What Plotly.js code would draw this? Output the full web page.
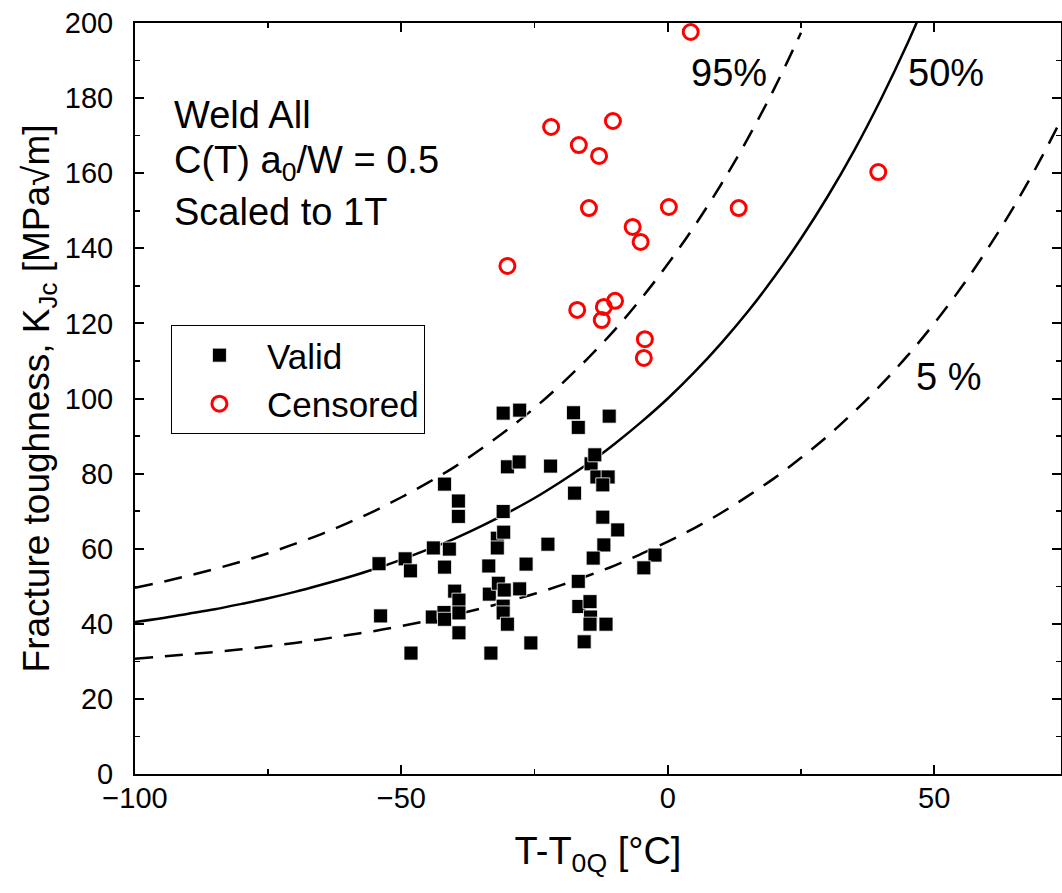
<!DOCTYPE html>
<html>
<head>
<meta charset="utf-8">
<script src="https://cdn.plot.ly/plotly-3.0.1.min.js"></script>
<style>html,body{margin:0;padding:0;background:#fff;}#chart{width:1062px;height:893px;}</style>
</head>
<body>
<div id="chart"></div>
<script>
// Valid results (T - T0Q [°C], KJc [MPa√m])
const validT = [-54.2,-53.9,-49.3,-48.3,-48.2,-44.0,-44.2,-41.9,-41.9,-41.0,-42.0,-41.9,-40.0,-39.2,-39.2,-39.2,-39.3,-39.3,
  -33.6,-33.5,-33.2,-32.0,-32.0,-31.8,-30.9,-30.1,-30.9,-30.8,-30.7,-30.9,-30.9,-30.1,-27.8,-27.9,-27.8,-26.6,-25.7,
  -22.0,-22.5,-17.7,-16.8,-17.5,-16.8,-16.7,-15.7,-14.6,-14.5,-14.6,-14.4,-13.7,-13.3,-11.2,-12.2,-12.2,-9.4,-12.0,
  -14.0,-11.6,-11.0,-2.4,-4.5];
const validK = [56.0,42.1,57.3,54.1,32.2,60.2,41.8,77.2,55.1,59.9,43.0,41.2,48.7,46.3,42.9,37.6,72.7,68.6,
  55.4,47.9,32.2,62.8,60.2,50.8,96.1,81.8,69.9,64.4,49.0,44.7,42.9,39.9,96.9,83.1,49.3,55.9,34.9,
  82.0,61.2,96.2,92.3,74.8,51.3,44.6,35.2,45.9,41.8,39.9,82.6,85.0,79.1,79.1,77.0,68.4,65.0,61.0,
  57.5,39.9,95.3,58.3,54.9];
// Censored results
const censT = [4.3,-21.9,-10.3,-16.7,-12.9,-14.8,0.2,-6.6,-5.1,-30.1,-17.0,-9.9,-12.0,-12.4,-4.3,-4.5,13.3,39.5];
const censK = [197.6,172.3,173.9,167.5,164.6,150.7,151.0,145.7,141.7,135.3,123.6,126.0,124.4,120.9,115.8,110.8,150.7,160.3];

// Master curve values
const curveT = [-100,-95,-90,-85,-80,-75,-70,-65,-60,-55,-50,-45,-40,-35,-30,-25,-20,-15,-10,-5,0,5,10,15,20,25,30,35,40,45,50,55,60,65,70,75];
const k50 = [40.5,41.5,42.7,43.9,45.3,46.8,48.5,50.4,52.4,54.6,57.1,59.8,62.7,66.0,69.6,73.5,77.9,82.6,87.9,93.7,100.0,107.0,114.7,123.1,132.4,142.6,153.8,166.1,179.7,194.6,211.0];
const k95 = [49.6,51.1,52.8,54.6,56.6,58.8,61.3,63.9,66.9,70.1,73.7,77.6,81.8,86.6,91.8,97.5,103.8,110.7,118.2,126.6,135.8,145.9,157.0,169.2,182.6,197.4];
const k05 = [30.7,31.3,31.9,32.5,33.2,34.0,34.9,35.9,37.0,38.1,39.4,40.8,42.4,44.1,46.0,48.0,50.3,52.8,55.5,58.6,61.9,65.5,69.5,74.0,78.8,84.2,90.0,96.5,103.6,111.4,120.0,129.4,139.8,151.2,163.8,177.6];

const xTicks = [-100,-50,0,50];
const xTickText = ['\u2212100','\u221250','0','50'];
const yTicks = [0,20,40,60,80,100,120,140,160,180,200];

const FONT = 'Liberation Sans, Arial, sans-serif';

const traces = [
  {x: curveT.slice(0,k95.length), y: k95, mode:'lines', line:{color:'#000', width:2.5, dash:'18px,12px', shape:'spline'}, showlegend:false, hoverinfo:'skip'},
  {x: curveT.slice(0,k50.length), y: k50, mode:'lines', line:{color:'#000', width:2.5, shape:'spline'}, showlegend:false, hoverinfo:'skip'},
  {x: curveT.slice(0,k05.length), y: k05, mode:'lines', line:{color:'#000', width:2.5, dash:'18px,12px', shape:'spline'}, showlegend:false, hoverinfo:'skip'},
  {x: validT, y: validK, mode:'markers', name:'Valid', marker:{symbol:'square', size:14, color:'#000', line:{color:'#fff', width:0.8}}},
  {x: censT, y: censK, mode:'markers', name:'Censored', marker:{symbol:'circle-open', size:15, color:'#ff0000', line:{color:'#ff0000', width:3}}, cliponaxis:false}
];

const ann = (x,y,t)=>({x:x, y:y, xref:'x', yref:'y', text:t, showarrow:false, xanchor:'left', yanchor:'middle', font:{family:FONT, size:38, color:'#000'}});

const layout = {
  width:1062, height:893,
  margin:{l:135, r:1, t:23, b:119},
  paper_bgcolor:'#fff', plot_bgcolor:'#fff',
  font:{family:FONT, color:'#000'},
  xaxis:{
    range:[-100,73.8], showline:true, linecolor:'#000', linewidth:2, mirror:'ticks',
    ticks:'inside', ticklen:9, tickwidth:2, tickcolor:'#000',
    tickvals:xTicks, ticktext:xTickText, tickfont:{family:FONT, size:29, color:'#000'}, ticklabelstandoff:-3,
    minor:{dtick:25, tick0:-100, ticks:'inside', ticklen:5, tickwidth:1.5, tickcolor:'#000', showgrid:false},
    showgrid:false, zeroline:false,
    title:{text:'T-T<sub>0Q</sub> [°C]', font:{family:FONT, size:38, color:'#000'}, standoff:25}
  },
  yaxis:{
    range:[0,200], showline:true, linecolor:'#000', linewidth:2, mirror:'ticks',
    ticks:'inside', ticklen:9, tickwidth:2, tickcolor:'#000',
    tickvals:yTicks, tickfont:{family:FONT, size:29, color:'#000'}, ticklabelstandoff:14,
    minor:{dtick:10, tick0:0, ticks:'inside', ticklen:5, tickwidth:1.5, tickcolor:'#000', showgrid:false},
    showgrid:false, zeroline:false,
    title:{text:'Fracture toughness, K<sub>Jc</sub> [MPa\u221Am]', font:{family:FONT, size:37, color:'#000'}, standoff:4}
  },
  legend:{x:0.0388, y:0.598, xanchor:'left', yanchor:'top', bgcolor:'#fff', bordercolor:'#000', borderwidth:1,
    font:{family:FONT, size:35, color:'#000'}, itemwidth:85, tracegroupgap:0},
  annotations:[
    ann(-93,175.5,'Weld All'),
    ann(-93,162.7,'C(T) a<sub>0</sub>/W = 0.5'),
    ann(-93,149.7,'Scaled to 1T'),
    ann(4.0,186.7,'95%'),
    ann(44.7,186.7,'50%'),
    ann(46.3,105.7,'5 %')
  ],
  showlegend:true
};

Plotly.newPlot('chart', traces, layout, {displayModeBar:false, staticPlot:true});
</script>
</body>
</html>
